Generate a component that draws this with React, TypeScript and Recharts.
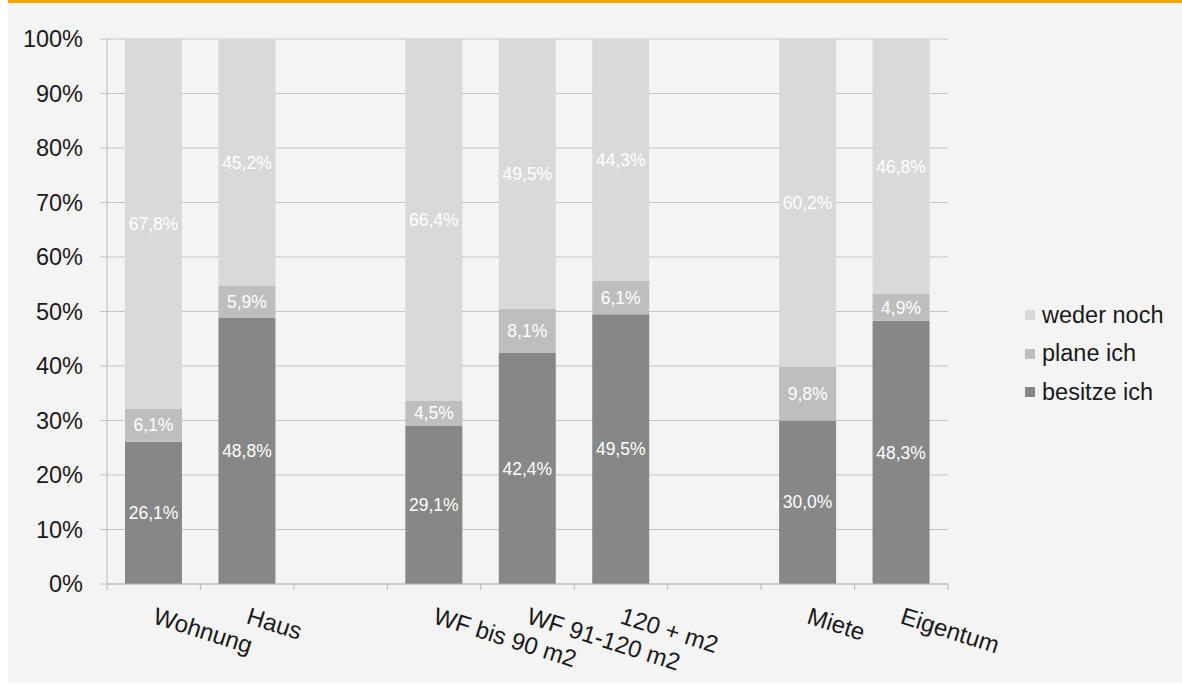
import React from 'react';
import { BarChart, Bar, XAxis, YAxis, CartesianGrid, Legend, LabelList } from 'recharts';

const categories = ['Wohnung', 'Haus', '', 'WF bis 90 m2', 'WF 91-120 m2', '120 + m2', ' ', 'Miete', 'Eigentum'];
const besitzeIch = [26.1, 48.8, null, 29.1, 42.4, 49.5, null, 30.0, 48.3];
const planeIch = [6.1, 5.9, null, 4.5, 8.1, 6.1, null, 9.8, 4.9];
const wederNoch = [67.8, 45.2, null, 66.4, 49.5, 44.3, null, 60.2, 46.8];
const yTicks = [0, 10, 20, 30, 40, 50, 60, 70, 80, 90, 100];

const series = [
    { key: 'besitze', name: 'besitze ich', color: '#878787' },
    { key: 'plane', name: 'plane ich', color: '#bebebe' },
    { key: 'weder', name: 'weder noch', color: '#d9d9d9' },
];

const data = categories.map((name, i) => ({
    name,
    besitze: besitzeIch[i],
    plane: planeIch[i],
    weder: wederNoch[i],
}));

const FONT = '"Liberation Sans", Arial, sans-serif';
const WIDTH = 1174;
const HEIGHT = 682;
const PLOT_LEFT = 99;
const PLOT_RIGHT = 940;
const BAND = (PLOT_RIGHT - PLOT_LEFT) / categories.length;

const fmt = (v: any) => (v == null ? '' : `${Number(v).toFixed(1).replace('.', ',')}%`);

const XTick = (props: any) => {
    const { x, y, payload, index } = props;
    const half = BAND / 2;
    const tx = x - 2;
    const ty = y + 39;
    return (
        <g>
            <line x1={x - half} x2={x - half} y1={y} y2={y + 6} stroke="#b8b8b8" />
            {index === categories.length - 1 && (
                <line x1={x + half} x2={x + half} y1={y} y2={y + 6} stroke="#b8b8b8" />
            )}
            <text
                x={tx}
                y={ty}
                transform={`rotate(17.5, ${tx}, ${ty})`}
                textAnchor="start"
                fontSize={24}
                fontFamily={FONT}
                fill="#1a1a1a"
            >
                {payload.value}
            </text>
        </g>
    );
};

const LegendContent = () => (
    <div style={{ fontFamily: FONT }}>
        {[...series].reverse().map((s) => (
            <div key={s.key} style={{ display: 'flex', alignItems: 'center', height: 38.5 }}>
                <span style={{ width: 10, height: 10, background: s.color, marginRight: 7 }} />
                <span style={{ fontSize: 23.5, color: '#1a1a1a' }}>{s.name}</span>
            </div>
        ))}
    </div>
);

export default function App() {
    return (
        <div
            style={{
                position: 'absolute',
                left: 8,
                top: 0,
                width: WIDTH,
                height: HEIGHT,
                background: '#f4f4f4',
                fontFamily: FONT,
            }}
        >
            <BarChart
                width={WIDTH}
                height={HEIGHT}
                data={data}
                margin={{ top: 39, right: WIDTH - PLOT_RIGHT, left: 0, bottom: 68 }}
            >
                <CartesianGrid horizontal vertical={false} stroke="#c4c4c4" />
                <XAxis
                    dataKey="name"
                    interval={0}
                    height={30}
                    tickLine={false}
                    tickSize={0}
                    tickMargin={0}
                    axisLine={{ stroke: '#b8b8b8' }}
                    tick={<XTick />}
                />
                <YAxis
                    width={PLOT_LEFT}
                    domain={[0, 100]}
                    ticks={yTicks}
                    tickFormatter={(v) => `${v}%`}
                    tickSize={7}
                    tickMargin={17}
                    tickLine={{ stroke: '#c4c4c4' }}
                    axisLine={{ stroke: '#b8b8b8' }}
                    tick={{ fontSize: 23.5, fill: '#1a1a1a', fontFamily: FONT }}
                />
                <Legend
                    layout="vertical"
                    align="center"
                    verticalAlign="middle"
                    content={<LegendContent />}
                    wrapperStyle={{ left: 1017, top: 296, width: 160 }}
                />
                {series.map((s) => (
                    <Bar
                        key={s.key}
                        dataKey={s.key}
                        name={s.name}
                        stackId="stack"
                        fill={s.color}
                        barSize={57}
                        isAnimationActive={false}
                    >
                        <LabelList
                            dataKey={s.key}
                            position="center"
                            formatter={fmt}
                            fill="#ffffff"
                            fontSize={17.5}
                            fontFamily={FONT}
                        />
                    </Bar>
                ))}
            </BarChart>
            <div style={{ position: 'absolute', left: 0, top: 0, width: WIDTH, height: 3, background: '#f7a600', zIndex: 5 }} />
        </div>
    );
}
